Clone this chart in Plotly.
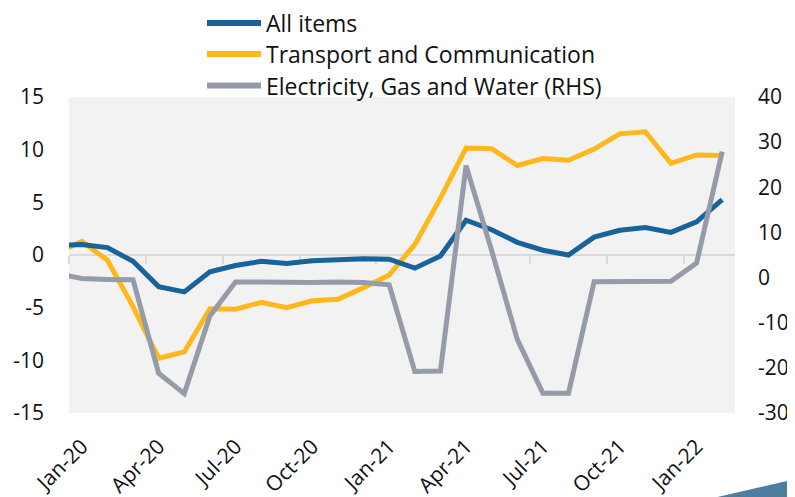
import plotly.graph_objects as go

# ---- data ----
months = ["Dec-19", "Jan-20", "Feb-20", "Mar-20", "Apr-20", "May-20", "Jun-20", "Jul-20",
          "Aug-20", "Sep-20", "Oct-20", "Nov-20", "Dec-20", "Jan-21", "Feb-21", "Mar-21",
          "Apr-21", "May-21", "Jun-21", "Jul-21", "Aug-21", "Sep-21", "Oct-21", "Nov-21",
          "Dec-21", "Jan-22", "Feb-22"]
all_items = [0.9, 1.0, 0.7, -0.6, -3.0, -3.5, -1.6, -1.0, -0.6, -0.8, -0.55, -0.45, -0.35,
             -0.4, -1.25, -0.1, 3.3, 2.4, 1.2, 0.45, 0.0, 1.7, 2.35, 2.6, 2.15, 3.15, 5.25]
transport = [0.15, 1.3, -0.5, -4.9, -9.8, -9.2, -5.1, -5.15, -4.5, -5.0, -4.35, -4.2, -3.1,
             -1.9, 1.0, 5.4, 10.15, 10.1, 8.5, 9.15, 9.0, 10.05, 11.5, 11.7, 8.7, 9.5, 9.45]
electricity = [0.9, -0.2, -0.4, -0.5, -21.2, -25.7, -8.5, -1.0, -1.0, -1.1, -1.1, -1.0, -1.1,
               -1.6, -20.8, -20.7, 24.8, 6.0, -13.7, -25.6, -25.6, -0.9, -0.9, -0.9, -0.8, 3.2, 27.9]
tick_labels = ["Jan-20", "Apr-20", "Jul-20", "Oct-20", "Jan-21", "Apr-21", "Jul-21", "Oct-21", "Jan-22"]
series_names = ["All items", "Transport and Communication", "Electricity, Gas and Water (RHS)"]
left_ticks = [15, 10, 5, 0, -5, -10, -15]
right_ticks = [40, 30, 20, 10, 0, -10, -20, -30]

# numeric positions: Jan-20 = 0 (Dec-19 sits just outside the visible range)
xpos = [i - 1 for i in range(len(months))]
label_pos = [xpos[months.index(m)] for m in tick_labels]
boundary_pos = [p - 0.5 for p in label_pos]

BLUE = "#17639a"
YELLOW = "#ffb81c"
GREY = "#959ba8"
FONT = "Open Sans"
TXT = "#111111"

fig = go.Figure()
# invisible trace to establish the zero-line axis subplot
fig.add_trace(go.Scatter(x=[xpos[1], xpos[-1]], y=[0, 0], xaxis="x2", yaxis="y",
                         mode="lines", line=dict(width=0), hoverinfo="skip", showlegend=False))
fig.add_trace(go.Scatter(x=xpos, y=electricity, name=series_names[2], yaxis="y2",
                         mode="lines", line=dict(color=GREY, width=5)))
fig.add_trace(go.Scatter(x=xpos, y=transport, name=series_names[1],
                         mode="lines", line=dict(color=YELLOW, width=5)))
fig.add_trace(go.Scatter(x=xpos, y=all_items, name=series_names[0],
                         mode="lines", line=dict(color=BLUE, width=5)))

# the page body adds an 8px offset, so the figure is 8px smaller and margins shifted
fig.update_layout(
    width=787, height=489,
    margin=dict(l=61, r=60, t=89, b=84, autoexpand=False),
    paper_bgcolor="white",
    plot_bgcolor="#f2f2f2",
    showlegend=False,
    font=dict(family=FONT, size=21, color=TXT),
    xaxis=dict(range=[-0.5, len(months) - 1.5], tickvals=label_pos, ticktext=tick_labels,
               tickangle=-45, showgrid=False, zeroline=False, showline=False, ticks="",
               tickfont=dict(size=21), fixedrange=True, automargin=False,
               ticklabelstandoff=16),
    xaxis2=dict(overlaying="x", matches="x", anchor="free", position=0.5, side="bottom",
                showline=True, linecolor="#d9d9d9", linewidth=2, ticks="outside",
                tickvals=boundary_pos, ticklen=8, tickwidth=2, tickcolor="#d9d9d9",
                showticklabels=False, showgrid=False, zeroline=False, layer="below traces",
                automargin=False),
    yaxis=dict(range=[-15, 15], tickvals=left_ticks, ticktext=[str(v) for v in left_ticks],
               showgrid=False, zeroline=False, showline=False, ticks="",
               ticklabelstandoff=24, automargin=False),
    yaxis2=dict(range=[-30, 40], tickvals=right_ticks, ticktext=[str(v) for v in right_ticks],
                overlaying="y", side="right", showgrid=False, zeroline=False,
                showline=False, ticks="", ticklabelstandoff=22, automargin=False),
)

# custom legend (long thick line samples as in the reference)
legend_rows = [(23, BLUE), (54, YELLOW), (85.5, GREY)]
for (py, col), name in zip(legend_rows, series_names):
    yp = (413 - py) / 316
    fig.add_shape(type="line", xref="paper", yref="paper",
                  x0=(207 - 69) / 666, x1=(261 - 69) / 666, y0=yp, y1=yp,
                  line=dict(color=col, width=6))
    fig.add_annotation(xref="paper", yref="paper", x=(264 - 69) / 666, y=yp,
                       xanchor="left", yanchor="middle", showarrow=False,
                       text=name, font=dict(size=23, color=TXT, family=FONT))

# decorative wedge in the bottom-right corner
fig.add_shape(type="path", xref="paper", yref="paper",
              path="M 0.965,-0.27 L 1.1,-0.205 L 1.1,-0.27 Z",
              fillcolor="#4f7d9e", line=dict(width=0), layer="above")

fig.write_html("out.html")
